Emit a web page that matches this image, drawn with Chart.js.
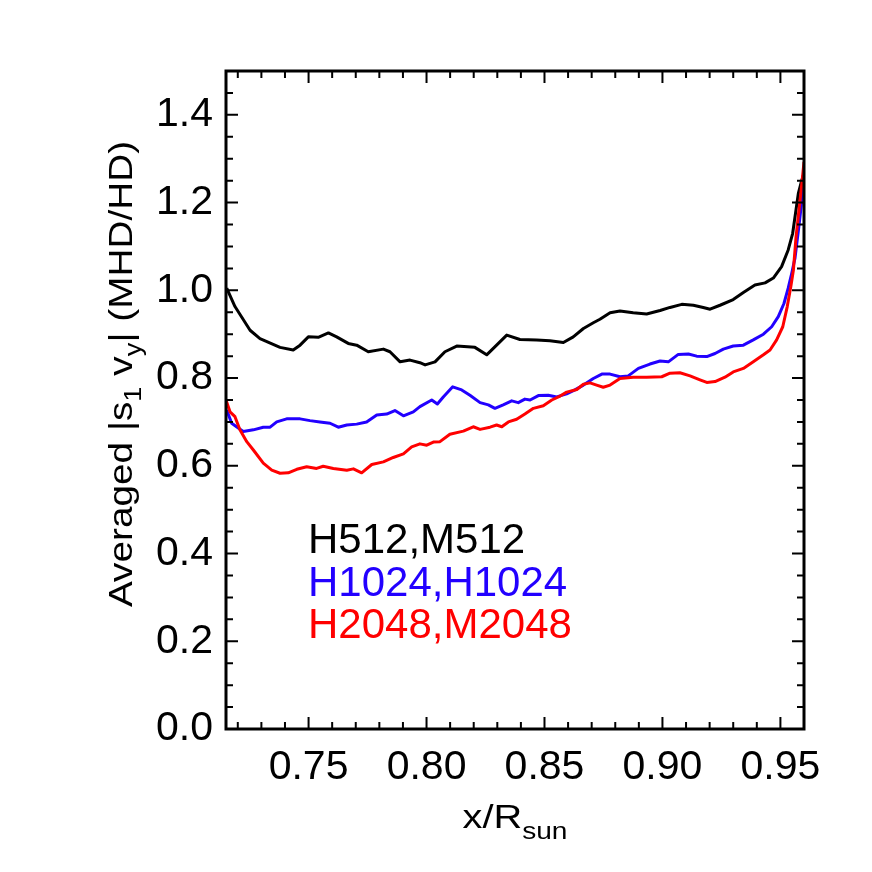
<!DOCTYPE html>
<html>
<head>
<meta charset="utf-8">
<script src="https://cdn.jsdelivr.net/npm/chart.js@4.4.1/dist/chart.umd.min.js"></script>
<style>
html, body { margin: 0; padding: 0; background: #fff; }
</style>
</head>
<body>
<canvas id="chart" width="872" height="872"></canvas>
<script>
// values
const xTicks = [0.75, 0.80, 0.85, 0.90, 0.95];
const yTicks = [0.0, 0.2, 0.4, 0.6, 0.8, 1.0, 1.2, 1.4];

const blackX = [0.7153,0.7188,0.7252,0.7294,0.7379,0.7435,0.7464,0.7499,0.7541,0.7584,0.7619,0.7668,0.7704,0.7753,0.7817,0.7845,0.7888,0.7930,0.7972,0.7994,0.8036,0.8078,0.8128,0.8205,0.8255,0.8297,0.8340,0.8396,0.8467,0.8523,0.8580,0.8622,0.8665,0.8707,0.8735,0.8778,0.8820,0.8876,0.8933,0.8990,0.9032,0.9082,0.9131,0.9173,0.9202,0.9244,0.9300,0.9343,0.9392,0.9435,0.9470,0.9505,0.9533,0.9552,0.9566,0.9576,0.9587,0.9597];
const blackY = [1.005,0.963,0.909,0.890,0.870,0.864,0.875,0.894,0.893,0.903,0.894,0.879,0.875,0.860,0.866,0.860,0.837,0.841,0.835,0.830,0.837,0.860,0.873,0.870,0.853,0.875,0.898,0.888,0.887,0.885,0.881,0.894,0.913,0.926,0.934,0.949,0.953,0.949,0.946,0.954,0.961,0.968,0.966,0.961,0.957,0.966,0.979,0.995,1.012,1.017,1.028,1.054,1.092,1.130,1.183,1.221,1.244,1.262];

const blueX = [0.7153,0.7174,0.7223,0.7266,0.7308,0.7337,0.7365,0.7407,0.7464,0.7506,0.7548,0.7591,0.7626,0.7662,0.7704,0.7746,0.7789,0.7831,0.7866,0.7902,0.7944,0.7972,0.8022,0.8046,0.8071,0.8111,0.8149,0.8184,0.8227,0.8262,0.8290,0.8325,0.8361,0.8389,0.8417,0.8439,0.8474,0.8516,0.8552,0.8594,0.8629,0.8665,0.8707,0.8743,0.8778,0.8820,0.8855,0.8898,0.8947,0.8990,0.9025,0.9067,0.9110,0.9145,0.9188,0.9223,0.9258,0.9300,0.9343,0.9385,0.9428,0.9463,0.9491,0.9515,0.9533,0.9548,0.9562,0.9579,0.9591,0.9598];
const blueY = [0.727,0.697,0.678,0.682,0.688,0.688,0.700,0.707,0.707,0.703,0.700,0.697,0.688,0.693,0.695,0.700,0.716,0.718,0.726,0.714,0.723,0.735,0.750,0.741,0.757,0.780,0.773,0.761,0.744,0.739,0.731,0.739,0.748,0.744,0.752,0.750,0.760,0.761,0.757,0.764,0.773,0.784,0.799,0.809,0.809,0.803,0.805,0.822,0.832,0.839,0.837,0.854,0.855,0.850,0.849,0.856,0.866,0.873,0.875,0.887,0.900,0.917,0.940,0.970,1.005,1.039,1.074,1.149,1.206,1.235];

const redX = [0.7150,0.7167,0.7188,0.7209,0.7238,0.7266,0.7308,0.7344,0.7379,0.7414,0.7450,0.7492,0.7534,0.7562,0.7605,0.7662,0.7690,0.7725,0.7768,0.7817,0.7859,0.7902,0.7937,0.7972,0.8001,0.8029,0.8057,0.8099,0.8156,0.8198,0.8227,0.8269,0.8297,0.8319,0.8347,0.8382,0.8417,0.8453,0.8495,0.8531,0.8566,0.8594,0.8637,0.8665,0.8693,0.8721,0.8749,0.8778,0.8820,0.8876,0.8933,0.8997,0.9032,0.9074,0.9117,0.9159,0.9188,0.9223,0.9265,0.9300,0.9343,0.9385,0.9428,0.9456,0.9484,0.9510,0.9529,0.9544,0.9555,0.9566,0.9580,0.9591,0.9600];
const redY = [0.750,0.723,0.712,0.682,0.655,0.636,0.606,0.590,0.583,0.584,0.592,0.598,0.594,0.599,0.594,0.590,0.593,0.584,0.603,0.609,0.619,0.627,0.643,0.650,0.647,0.654,0.655,0.672,0.679,0.689,0.683,0.688,0.693,0.689,0.700,0.706,0.718,0.731,0.737,0.750,0.759,0.768,0.774,0.786,0.789,0.784,0.779,0.784,0.799,0.802,0.802,0.803,0.811,0.812,0.805,0.796,0.790,0.792,0.802,0.814,0.822,0.837,0.853,0.864,0.887,0.917,0.963,1.008,1.046,1.120,1.190,1.244,1.293];

const legendLabels = ["H512,M512", "H1024,H1024", "H2048,M2048"];
const colors = ["#000000", "#2200ff", "#ff0000"];

const FONT = '"Liberation Sans", Arial, Helvetica, sans-serif';

function points(xs, ys) {
    return xs.map((x, i) => ({ x: x, y: ys[i] }));
}

// draws a run of text pieces, some of them subscripts
function drawPieces(ctx, pieces, x0, y0) {
    var x = x0;
    pieces.forEach(p => {
        ctx.font = p[1] + "px " + FONT;
        ctx.fillText(p[0], x, y0 + p[2]);
        x += ctx.measureText(p[0]).width;
    });
}

function piecesWidth(ctx, pieces) {
    var w = 0;
    pieces.forEach(p => {
        ctx.font = p[1] + "px " + FONT;
        w += ctx.measureText(p[0]).width;
    });
    return w;
}

const framePlugin = {
    id: "frame",
    afterDraw(chart) {
        const ctx = chart.ctx;
        const a = chart.chartArea;
        const xs = chart.scales.x;
        const ys = chart.scales.y;

        ctx.save();
        ctx.strokeStyle = "#000";

        // inward ticks on all four sides
        ctx.lineWidth = 2;
        ctx.beginPath();
        for (var k = 72; k <= 96; k++) {
            const px = xs.getPixelForValue(k / 100);
            const len = (k % 5 === 0) ? 12 : 7;
            ctx.moveTo(px, a.bottom);
            ctx.lineTo(px, a.bottom - len);
            ctx.moveTo(px, a.top);
            ctx.lineTo(px, a.top + len);
        }
        for (var j = 1; j < 30; j++) {
            const py = ys.getPixelForValue(j * 0.05);
            const len = (j % 4 === 0) ? 12 : 7;
            ctx.moveTo(a.left, py);
            ctx.lineTo(a.left + len, py);
            ctx.moveTo(a.right, py);
            ctx.lineTo(a.right - len, py);
        }
        ctx.stroke();

        ctx.lineWidth = 3;
        ctx.strokeRect(a.left, a.top, a.right - a.left, a.bottom - a.top);

        // axis titles
        ctx.fillStyle = "#000";
        ctx.textBaseline = "alphabetic";
        ctx.textAlign = "left";

        const xTitle = [["x/R", 34, 0], ["sun", 24, 11]];
        ctx.save();
        ctx.translate((a.left + a.right) / 2, 828);
        ctx.scale(1.17, 1);
        drawPieces(ctx, xTitle, -piecesWidth(ctx, xTitle) / 2, 0);
        ctx.restore();

        const yTitle = [["Averaged |s", 34, 0], ["1", 24, 9], [" v", 34, 0], ["y", 24, 9], ["| (MHD/HD)", 34, 0]];
        ctx.save();
        ctx.translate(132, 374);
        ctx.rotate(-Math.PI / 2);
        ctx.scale(1.14, 1);
        drawPieces(ctx, yTitle, -piecesWidth(ctx, yTitle) / 2, 0);
        ctx.restore();

        // legend as coloured text
        ctx.font = "42px " + FONT;
        legendLabels.forEach((t, i) => {
            ctx.fillStyle = colors[i];
            ctx.fillText(t, 308, 553 + i * 42.5);
        });

        ctx.restore();
    }
};

const ctx = document.getElementById("chart").getContext("2d");

const config = {
    type: "line",
    data: {
        datasets: [
            { label: legendLabels[2], data: points(redX, redY), borderColor: colors[2] },
            { label: legendLabels[1], data: points(blueX, blueY), borderColor: colors[1] },
            { label: legendLabels[0], data: points(blackX, blackY), borderColor: colors[0] }
        ]
    },
    options: {
        responsive: false,
        animation: false,
        elements: {
            point: { radius: 0 },
            line: { borderWidth: 3, tension: 0, fill: false, borderJoinStyle: "round" }
        },
        layout: { padding: { left: 0, top: 71, right: 68, bottom: 0 } },
        plugins: {
            legend: { display: false },
            tooltip: { enabled: false },
            title: { display: false }
        },
        scales: {
            x: {
                type: "linear",
                min: 0.715,
                max: 0.96,
                grid: { display: false, drawTicks: false },
                border: { display: false },
                afterBuildTicks: scale => { scale.ticks = xTicks.map(v => ({ value: v })); },
                afterFit: scale => { scale.height = 143; },
                ticks: {
                    color: "#000",
                    padding: 14,
                    maxRotation: 0,
                    autoSkip: false,
                    font: { family: FONT, size: 41 },
                    callback: v => v.toFixed(2)
                }
            },
            y: {
                type: "linear",
                min: 0,
                max: 1.5,
                grid: { display: false, drawTicks: false },
                border: { display: false },
                afterBuildTicks: scale => { scale.ticks = yTicks.map(v => ({ value: v })); },
                afterFit: scale => { scale.width = 226; },
                ticks: {
                    color: "#000",
                    padding: 13,
                    autoSkip: false,
                    font: { family: FONT, size: 41 },
                    callback: v => v.toFixed(1)
                }
            }
        }
    },
    plugins: [framePlugin]
};

new Chart(ctx, config);
</script>
</body>
</html>
